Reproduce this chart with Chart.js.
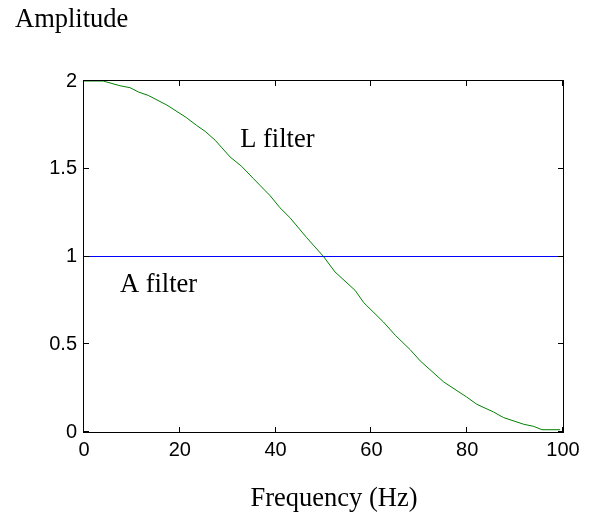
<!DOCTYPE html>
<html>
<head>
<meta charset="utf-8">
<script src="https://cdn.jsdelivr.net/npm/chart.js@4.4.1/dist/chart.umd.min.js"></script>
<style>
  html, body { margin: 0; padding: 0; background: #fff; }
  canvas { display: block; }
</style>
</head>
<body>
<canvas id="filterChart" width="597" height="516"></canvas>
<script>
// values
const freqHz = [0, 4, 7.5, 9.6, 11.4, 13.4, 17.3, 21.4, 23.5, 25.3, 27.4, 30.5, 32.9, 35.4, 38.9, 40.9, 43.0, 46.5, 50, 52.4, 56.6, 58.4, 62.5, 65, 68.1, 70.2, 75.1, 79.9, 82.0, 85.5, 87.6, 91.8, 93.9, 95.6, 99.4];
const lFilterAmp = [2, 2, 1.973, 1.962, 1.937, 1.918, 1.863, 1.791, 1.747, 1.713, 1.662, 1.567, 1.514, 1.443, 1.345, 1.278, 1.221, 1.107, 1.0, 0.912, 0.807, 0.737, 0.627, 0.551, 0.469, 0.405, 0.285, 0.199, 0.158, 0.114, 0.082, 0.044, 0.032, 0.013, 0.013];
const aFilterFreq = [0, 100];
const aFilterAmp = [1, 1];
const xTicks = [0, 20, 40, 60, 80, 100];
const yTicks = [0, 0.5, 1, 1.5, 2];

const serif = '"Liberation Serif", "Times New Roman", serif';
const sans = '"Liberation Sans", Arial, sans-serif';

// text labels placed in data coords (x, y = baseline)
const curveLabels = [
  { text: "L filter", x: 32.6, y: 1.625 },
  { text: "A filter", x: 7.5, y: 0.8 },
];

const toPoints = (xs, ys) => xs.map((x, i) => ({ x: x, y: ys[i] }));

// matlab style box with inward ticks + the free texts
const matlabBox = {
  id: "matlabBox",
  afterDatasetsDraw: (chart) => {
    const ctx = chart.ctx;
    const { left, right, top, bottom } = chart.chartArea;
    const xs = chart.scales.x;
    const ys = chart.scales.y;
    const tickLen = 5;
    ctx.save();
    ctx.strokeStyle = "#000";
    ctx.lineWidth = 1;
    ctx.strokeRect(left - 0.5, top - 0.5, right - left + 1, bottom - top + 1);
    ctx.beginPath();
    xTicks.forEach((v) => {
      const px = Math.round(xs.getPixelForValue(v)) - 0.5;
      ctx.moveTo(px, bottom);
      ctx.lineTo(px, bottom - tickLen);
      ctx.moveTo(px, top);
      ctx.lineTo(px, top + tickLen);
    });
    yTicks.forEach((v) => {
      const py = Math.round(ys.getPixelForValue(v)) - 0.5;
      ctx.moveTo(left, py);
      ctx.lineTo(left + tickLen, py);
      ctx.moveTo(right, py);
      ctx.lineTo(right - tickLen, py);
    });
    ctx.stroke();

    ctx.fillStyle = "#000";
    ctx.font = "26.5px " + serif;
    ctx.textBaseline = "alphabetic";
    ctx.textAlign = "left";
    curveLabels.forEach((l) => {
      ctx.fillText(l.text, xs.getPixelForValue(l.x), ys.getPixelForValue(l.y));
    });
    ctx.fillText("Amplitude", 15, 27);
    ctx.textAlign = "center";
    ctx.fillText("Frequency (Hz)", 334, 506);
    ctx.restore();
  },
};

const ctx = document.getElementById("filterChart").getContext("2d");
const filterChart = new Chart(ctx, {
  type: "scatter",
  data: {
    datasets: [
      {
        label: "A filter",
        data: toPoints(aFilterFreq, aFilterAmp),
        showLine: true,
        borderColor: "#0000ff",
        borderWidth: 1,
        pointRadius: 0,
        tension: 0,
      },
      {
        label: "L filter",
        data: toPoints(freqHz, lFilterAmp),
        showLine: true,
        borderColor: "#008000",
        borderWidth: 1,
        pointRadius: 0,
        tension: 0,
      },
    ],
  },
  plugins: [matlabBox],
  options: {
    responsive: false,
    animation: false,
    devicePixelRatio: 1,
    layout: { padding: { left: 0, top: 81, right: 34, bottom: 0 } },
    plugins: {
      legend: { display: false },
      tooltip: { enabled: false },
    },
    scales: {
      x: {
        type: "linear",
        min: 0,
        max: 100,
        afterBuildTicks: (scale) => {
          scale.ticks = xTicks.map((v) => ({ value: v }));
        },
        afterFit: (scale) => {
          scale.height = 84;
        },
        grid: { display: false, drawTicks: false },
        border: { display: false },
        ticks: {
          padding: 6,
          color: "#000",
          maxRotation: 0,
          font: { family: sans, size: 20 },
          callback: (value) => String(value),
        },
      },
      y: {
        type: "linear",
        min: 0,
        max: 2,
        afterBuildTicks: (scale) => {
          scale.ticks = yTicks.map((v) => ({ value: v }));
        },
        afterFit: (scale) => {
          scale.width = 84;
        },
        grid: { display: false, drawTicks: false },
        border: { display: false },
        ticks: {
          padding: 7,
          color: "#000",
          font: { family: sans, size: 20 },
          callback: (value) => String(value),
        },
      },
    },
  },
});
</script>
</body>
</html>
